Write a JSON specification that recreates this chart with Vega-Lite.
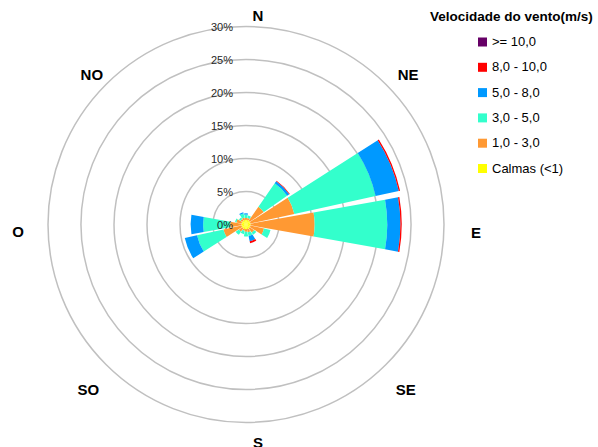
{
  "$schema": "https://vega.github.io/schema/vega-lite/v6.json",
  "width": 492,
  "height": 445,
  "autosize": {"type": "none"},
  "padding": {"left": 0, "top": 2, "right": 106, "bottom": 0},
  "background": "white",
  "config": {
    "font": "Liberation Sans",
    "view": {"stroke": null},
    "legend": {
      "orient": "none",
      "legendX": 430,
      "legendY": 8,
      "padding": 0,
      "titleFontSize": 13.5,
      "titleFontWeight": "bold",
      "titleColor": "#000000",
      "titleFont": "Liberation Sans",
      "titlePadding": 12,
      "labelFontSize": 13,
      "labelColor": "#000000",
      "labelFont": "Liberation Sans",
      "symbolType": "square",
      "symbolSize": 81,
      "symbolStrokeWidth": 0,
      "symbolOffset": 46,
      "labelOffset": 3,
      "rowPadding": 11.3
    }
  },
  "layer": [
    {
      "data": {"values": [{"pct": 5}, {"pct": 10}, {"pct": 15}, {"pct": 20}, {"pct": 25}, {"pct": 30}]},
      "mark": {"type": "arc", "theta": 0, "theta2": 6.2832, "fill": null, "filled": false, "stroke": "#c0c0c0", "strokeWidth": 1.5},
      "encoding": {
        "radius": {"field": "pct", "type": "quantitative", "stack": null,
          "scale": {"type": "linear", "domain": [0, 30], "range": [0, 198], "zero": true, "nice": false}}
      }
    },
    {
      "data": {"values": [
        {"dir": "N", "cls": "Calmas (<1)", "ord": 0, "pct": 0.7},
        {"dir": "N", "cls": "1,0 - 3,0", "ord": 1, "pct": 0.3},
        {"dir": "N", "cls": "3,0 - 5,0", "ord": 2, "pct": 0.5},
        {"dir": "N", "cls": "5,0 - 8,0", "ord": 3, "pct": 0.2},
        {"dir": "NNE", "cls": "Calmas (<1)", "ord": 0, "pct": 0.7},
        {"dir": "NNE", "cls": "1,0 - 3,0", "ord": 1, "pct": 0.3},
        {"dir": "NNE", "cls": "3,0 - 5,0", "ord": 2, "pct": 0.4},
        {"dir": "NE", "cls": "Calmas (<1)", "ord": 0, "pct": 0.7},
        {"dir": "NE", "cls": "1,0 - 3,0", "ord": 1, "pct": 2.6},
        {"dir": "NE", "cls": "3,0 - 5,0", "ord": 2, "pct": 4.3},
        {"dir": "NE", "cls": "5,0 - 8,0", "ord": 3, "pct": 0.4},
        {"dir": "NE", "cls": "8,0 - 10,0", "ord": 4, "pct": 0.1},
        {"dir": "ENE", "cls": "Calmas (<1)", "ord": 0, "pct": 0.7},
        {"dir": "ENE", "cls": "1,0 - 3,0", "ord": 1, "pct": 6.8},
        {"dir": "ENE", "cls": "3,0 - 5,0", "ord": 2, "pct": 12.6},
        {"dir": "ENE", "cls": "5,0 - 8,0", "ord": 3, "pct": 3.6},
        {"dir": "ENE", "cls": "8,0 - 10,0", "ord": 4, "pct": 0.2},
        {"dir": "E", "cls": "Calmas (<1)", "ord": 0, "pct": 0.7},
        {"dir": "E", "cls": "1,0 - 3,0", "ord": 1, "pct": 9.7},
        {"dir": "E", "cls": "3,0 - 5,0", "ord": 2, "pct": 11.0},
        {"dir": "E", "cls": "5,0 - 8,0", "ord": 3, "pct": 2.0},
        {"dir": "E", "cls": "8,0 - 10,0", "ord": 4, "pct": 0.2},
        {"dir": "ESE", "cls": "Calmas (<1)", "ord": 0, "pct": 0.7},
        {"dir": "ESE", "cls": "1,0 - 3,0", "ord": 1, "pct": 2.1},
        {"dir": "ESE", "cls": "3,0 - 5,0", "ord": 2, "pct": 1.0},
        {"dir": "SE", "cls": "Calmas (<1)", "ord": 0, "pct": 0.7},
        {"dir": "SE", "cls": "1,0 - 3,0", "ord": 1, "pct": 0.8},
        {"dir": "SE", "cls": "3,0 - 5,0", "ord": 2, "pct": 0.4},
        {"dir": "SSE", "cls": "Calmas (<1)", "ord": 0, "pct": 0.7},
        {"dir": "SSE", "cls": "1,0 - 3,0", "ord": 1, "pct": 0.5},
        {"dir": "SSE", "cls": "3,0 - 5,0", "ord": 2, "pct": 0.6},
        {"dir": "SSE", "cls": "5,0 - 8,0", "ord": 3, "pct": 0.8},
        {"dir": "SSE", "cls": "8,0 - 10,0", "ord": 4, "pct": 0.3},
        {"dir": "S", "cls": "Calmas (<1)", "ord": 0, "pct": 0.7},
        {"dir": "S", "cls": "1,0 - 3,0", "ord": 1, "pct": 0.4},
        {"dir": "S", "cls": "3,0 - 5,0", "ord": 2, "pct": 0.7},
        {"dir": "SSO", "cls": "Calmas (<1)", "ord": 0, "pct": 0.7},
        {"dir": "SSO", "cls": "1,0 - 3,0", "ord": 1, "pct": 0.3},
        {"dir": "SSO", "cls": "3,0 - 5,0", "ord": 2, "pct": 0.5},
        {"dir": "SO", "cls": "Calmas (<1)", "ord": 0, "pct": 0.7},
        {"dir": "SO", "cls": "1,0 - 3,0", "ord": 1, "pct": 0.6},
        {"dir": "SO", "cls": "3,0 - 5,0", "ord": 2, "pct": 0.6},
        {"dir": "OSO", "cls": "Calmas (<1)", "ord": 0, "pct": 0.7},
        {"dir": "OSO", "cls": "1,0 - 3,0", "ord": 1, "pct": 2.8},
        {"dir": "OSO", "cls": "3,0 - 5,0", "ord": 2, "pct": 4.1},
        {"dir": "OSO", "cls": "5,0 - 8,0", "ord": 3, "pct": 1.9},
        {"dir": "O", "cls": "Calmas (<1)", "ord": 0, "pct": 0.7},
        {"dir": "O", "cls": "1,0 - 3,0", "ord": 1, "pct": 1.7},
        {"dir": "O", "cls": "3,0 - 5,0", "ord": 2, "pct": 4.1},
        {"dir": "O", "cls": "5,0 - 8,0", "ord": 3, "pct": 1.9},
        {"dir": "ONO", "cls": "Calmas (<1)", "ord": 0, "pct": 0.7},
        {"dir": "ONO", "cls": "1,0 - 3,0", "ord": 1, "pct": 0.8},
        {"dir": "ONO", "cls": "3,0 - 5,0", "ord": 2, "pct": 0.2},
        {"dir": "NO", "cls": "Calmas (<1)", "ord": 0, "pct": 0.7},
        {"dir": "NO", "cls": "1,0 - 3,0", "ord": 1, "pct": 0.3},
        {"dir": "NO", "cls": "3,0 - 5,0", "ord": 2, "pct": 0.3},
        {"dir": "NNO", "cls": "Calmas (<1)", "ord": 0, "pct": 0.7},
        {"dir": "NNO", "cls": "1,0 - 3,0", "ord": 1, "pct": 0.4},
        {"dir": "NNO", "cls": "3,0 - 5,0", "ord": 2, "pct": 0.6},
        {"dir": "NNO", "cls": "5,0 - 8,0", "ord": 3, "pct": 0.2}
      ]},
      "mark": {"type": "arc"},
      "encoding": {
        "theta": {"field": "dir", "type": "nominal",
          "scale": {"type": "band",
            "domain": ["N", "NNE", "NE", "ENE", "E", "ESE", "SE", "SSE", "S", "SSO", "SO", "OSO", "O", "ONO", "NO", "NNO"],
            "range": [-0.19635, 6.08684], "paddingInner": 0.1, "paddingOuter": 0.05}},
        "radius": {"field": "pct", "type": "quantitative", "stack": "zero"},
        "order": {"field": "ord", "type": "quantitative"},
        "color": {"field": "cls", "type": "nominal", "title": "Velocidade do vento(m/s)",
          "scale": {"domain": [">= 10,0", "8,0 - 10,0", "5,0 - 8,0", "3,0 - 5,0", "1,0 - 3,0", "Calmas (<1)"],
            "range": ["#660066", "#ff0000", "#0099ff", "#33ffcc", "#ff9933", "#ffff00"]}}
      }
    },
    {
      "data": {"values": [
        {"pct": 0, "lab": "0%"}, {"pct": 5, "lab": "5%"}, {"pct": 10, "lab": "10%"}, {"pct": 15, "lab": "15%"},
        {"pct": 20, "lab": "20%"}, {"pct": 25, "lab": "25%"}, {"pct": 30, "lab": "30%"}
      ]},
      "mark": {"type": "text", "theta": 0, "align": "right", "baseline": "middle", "dx": -13, "dy": 1, "fontSize": 11, "color": "#262626"},
      "encoding": {
        "radius": {"field": "pct", "type": "quantitative", "stack": null},
        "text": {"field": "lab"}
      }
    },
    {
      "data": {"values": [{"dir": "N"}, {"dir": "S"}]},
      "mark": {"type": "text", "align": "center", "baseline": "middle", "dx": 12, "dy": 5, "fontSize": 15, "fontWeight": "bold", "color": "#000000"},
      "encoding": {
        "theta": {"field": "dir", "type": "nominal"},
        "radius": {"datum": 32.3, "type": "quantitative"},
        "text": {"field": "dir"}
      }
    },
    {
      "data": {"values": [{"dir": "E"}, {"dir": "O"}]},
      "mark": {"type": "text", "align": "center", "baseline": "middle", "dx": 1, "dy": 8, "fontSize": 15, "fontWeight": "bold", "color": "#000000"},
      "encoding": {
        "theta": {"field": "dir", "type": "nominal"},
        "radius": {"datum": 34.7, "type": "quantitative"},
        "text": {"field": "dir"}
      }
    },
    {
      "data": {"values": [{"dir": "NE"}, {"dir": "NO"}]},
      "mark": {"type": "text", "align": "center", "baseline": "middle", "dx": 4, "dy": 9, "fontSize": 15, "fontWeight": "bold", "color": "#000000"},
      "encoding": {
        "theta": {"field": "dir", "type": "nominal"},
        "radius": {"datum": 33.9, "type": "quantitative"},
        "text": {"field": "dir"}
      }
    },
    {
      "data": {"values": [{"dir": "SE"}, {"dir": "SO"}]},
      "mark": {"type": "text", "align": "center", "baseline": "middle", "dx": 1, "dy": 7, "fontSize": 15, "fontWeight": "bold", "color": "#000000"},
      "encoding": {
        "theta": {"field": "dir", "type": "nominal"},
        "radius": {"datum": 34.0, "type": "quantitative"},
        "text": {"field": "dir"}
      }
    }
  ]
}
